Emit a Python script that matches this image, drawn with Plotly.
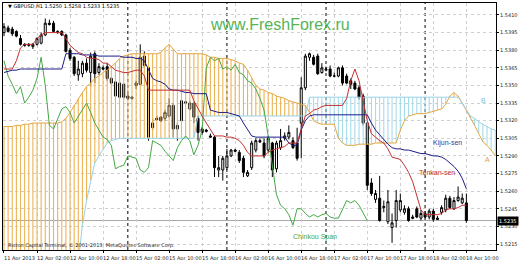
import plotly.graph_objects as go

# ---------------- data (GBPUSD H1, bar index 0 = 11 Apr 2013 18:00) ----------------
open_ = [1.5395, 1.5399, 1.5398, 1.5396, 1.5390, 1.5385, 1.5384, 1.5383, 1.5385, 1.5386,
         1.5393, 1.5403, 1.5403, 1.5396, 1.5396, 1.5393, 1.5380, 1.5374, 1.5359, 1.5360,
         1.5369, 1.5361, 1.5377, 1.5361, 1.5365, 1.5366, 1.5356, 1.5353, 1.5352, 1.5351,
         1.5341, 1.5340, 1.5350, 1.5351, 1.5375, 1.5365, 1.5314, 1.5322, 1.5323, 1.5322,
         1.5324, 1.5333, 1.5313, 1.5320, 1.5335, 1.5330, 1.5335, 1.5322, 1.5313, 1.5312,
         1.5307, 1.5306, 1.5278, 1.5278, 1.5280, 1.5290, 1.5295, 1.5293, 1.5288, 1.5273,
         1.5280, 1.5295, 1.5303, 1.5301, 1.5295, 1.5301, 1.5279, 1.5297, 1.5305, 1.5306,
         1.5303, 1.5301, 1.5318, 1.5348, 1.5374, 1.5374, 1.5375, 1.5361, 1.5363, 1.5364,
         1.5358, 1.5358, 1.5365, 1.5358, 1.5354, 1.5352, 1.5348, 1.5341, 1.5318, 1.5267,
         1.5253, 1.5254, 1.5246, 1.5234, 1.5229, 1.5235, 1.5244, 1.5242, 1.5245, 1.5238,
         1.5245, 1.5237, 1.5241, 1.5238, 1.5243, 1.5237, 1.5242, 1.5244, 1.5254, 1.5245,
         1.5252, 1.5250, 1.5250]
high = [1.5403, 1.5401, 1.5400, 1.5397, 1.5393, 1.5386, 1.5386, 1.5386, 1.5391, 1.5395,
        1.5407, 1.5406, 1.5405, 1.5397, 1.5397, 1.5394, 1.5382, 1.5375, 1.5371, 1.5371,
        1.5373, 1.5378, 1.5379, 1.5369, 1.5367, 1.5369, 1.5357, 1.5355, 1.5354, 1.5352,
        1.5343, 1.5341, 1.5354, 1.5385, 1.5379, 1.5367, 1.5322, 1.5324, 1.5324, 1.5329,
        1.5339, 1.5335, 1.5318, 1.5339, 1.5337, 1.5337, 1.5336, 1.5324, 1.5315, 1.5313,
        1.5309, 1.5307, 1.5290, 1.5290, 1.5296, 1.5296, 1.5296, 1.5295, 1.5290, 1.5278,
        1.5303, 1.5305, 1.5305, 1.5305, 1.5307, 1.5302, 1.5303, 1.5313, 1.5310, 1.5316,
        1.5306, 1.5314, 1.5357, 1.5377, 1.5378, 1.5376, 1.5377, 1.5369, 1.5366, 1.5367,
        1.5361, 1.5366, 1.5367, 1.5360, 1.5356, 1.5354, 1.5350, 1.5343, 1.5319, 1.5271,
        1.5261, 1.5273, 1.5252, 1.5261, 1.5241, 1.5261, 1.5258, 1.5248, 1.5247, 1.5240,
        1.5247, 1.5244, 1.5243, 1.5245, 1.5245, 1.5239, 1.5248, 1.5257, 1.5256, 1.5255,
        1.5264, 1.5258, 1.5258]
low = [1.5392, 1.5395, 1.5392, 1.5391, 1.5384, 1.5383, 1.5383, 1.5381, 1.5384, 1.5385,
       1.5392, 1.5401, 1.5395, 1.5394, 1.5392, 1.5378, 1.5371, 1.5358, 1.5354, 1.5357,
       1.5361, 1.5349, 1.5352, 1.5359, 1.5363, 1.5354, 1.5351, 1.5340, 1.5339, 1.5339,
       1.5338, 1.5338, 1.5347, 1.5350, 1.5365, 1.5303, 1.5312, 1.5320, 1.5319, 1.5320,
       1.5323, 1.5306, 1.5303, 1.5315, 1.5334, 1.5329, 1.5318, 1.5303, 1.5308, 1.5310,
       1.5306, 1.5272, 1.5272, 1.5269, 1.5278, 1.5289, 1.5293, 1.5284, 1.5272, 1.5272,
       1.5278, 1.5293, 1.5301, 1.5288, 1.5293, 1.5272, 1.5276, 1.5295, 1.5303, 1.5304,
       1.5296, 1.5286, 1.5288, 1.5346, 1.5371, 1.5367, 1.5359, 1.5360, 1.5362, 1.5357,
       1.5357, 1.5357, 1.5350, 1.5351, 1.5347, 1.5346, 1.5338, 1.5316, 1.5261, 1.5256,
       1.5250, 1.5234, 1.5242, 1.5232, 1.5216, 1.5229, 1.5242, 1.5240, 1.5234, 1.5236,
       1.5237, 1.5235, 1.5237, 1.5236, 1.5234, 1.5236, 1.5240, 1.5242, 1.5245, 1.5244,
       1.5251, 1.5249, 1.5233]
close_ = [1.5400, 1.5396, 1.5394, 1.5392, 1.5385, 1.5384, 1.5385, 1.5385, 1.5390, 1.5393,
          1.5403, 1.5402, 1.5396, 1.5395, 1.5393, 1.5379, 1.5373, 1.5360, 1.5364, 1.5369,
          1.5363, 1.5375, 1.5360, 1.5366, 1.5364, 1.5356, 1.5352, 1.5341, 1.5340, 1.5340,
          1.5339, 1.5339, 1.5352, 1.5374, 1.5367, 1.5306, 1.5318, 1.5321, 1.5320, 1.5327,
          1.5333, 1.5313, 1.5316, 1.5337, 1.5336, 1.5335, 1.5323, 1.5310, 1.5310, 1.5311,
          1.5306, 1.5280, 1.5280, 1.5288, 1.5290, 1.5295, 1.5294, 1.5286, 1.5276, 1.5276,
          1.5301, 1.5303, 1.5302, 1.5290, 1.5305, 1.5278, 1.5301, 1.5303, 1.5307, 1.5310,
          1.5297, 1.5288, 1.5348, 1.5375, 1.5377, 1.5368, 1.5360, 1.5365, 1.5364, 1.5358,
          1.5358, 1.5365, 1.5352, 1.5352, 1.5351, 1.5347, 1.5340, 1.5318, 1.5265, 1.5258,
          1.5258, 1.5235, 1.5247, 1.5251, 1.5233, 1.5252, 1.5252, 1.5245, 1.5235, 1.5237,
          1.5238, 1.5241, 1.5238, 1.5243, 1.5236, 1.5236, 1.5246, 1.5254, 1.5246, 1.5252,
          1.5255, 1.5254, 1.5235]

tenkan = [1.5364, 1.5364, 1.5364, 1.5371, 1.5382, 1.5385, 1.5385, 1.5385, 1.5390, 1.5393,
          1.5395, 1.5395, 1.5395, 1.5395, 1.5395, 1.5390, 1.5384, 1.5381, 1.5378, 1.5377,
          1.5374, 1.5373, 1.5373, 1.5372, 1.5369, 1.5369, 1.5366, 1.5363, 1.5362, 1.5361,
          1.5361, 1.5362, 1.5363, 1.5363, 1.5358, 1.5346, 1.5346, 1.5346, 1.5346, 1.5346,
          1.5346, 1.5346, 1.5346, 1.5346, 1.5346, 1.5346, 1.5337, 1.5330, 1.5324, 1.5318,
          1.5312, 1.5307, 1.5307, 1.5307, 1.5306, 1.5306, 1.5305, 1.5303, 1.5299, 1.5293,
          1.5290, 1.5290, 1.5290, 1.5290, 1.5293, 1.5295, 1.5296, 1.5297, 1.5298, 1.5301,
          1.5301, 1.5301, 1.5313, 1.5324, 1.5326, 1.5329, 1.5330, 1.5332, 1.5333, 1.5333,
          1.5333, 1.5333, 1.5333, 1.5339, 1.5354, 1.5364, 1.5354, 1.5337, 1.5320, 1.5309,
          1.5306, 1.5303, 1.5301, 1.5296, 1.5289, 1.5288, 1.5287, 1.5282, 1.5276, 1.5268,
          1.5257, 1.5244, 1.5240, 1.5240, 1.5240, 1.5240, 1.5241, 1.5244, 1.5245, 1.5245,
          1.5246, 1.5248, 1.5248]
kijun = [1.5361, 1.5362, 1.5363, 1.5363, 1.5364, 1.5364, 1.5364, 1.5364, 1.5364, 1.5364,
         1.5364, 1.5364, 1.5364, 1.5364, 1.5364, 1.5377, 1.5377, 1.5377, 1.5377, 1.5376,
         1.5376, 1.5376, 1.5376, 1.5375, 1.5375, 1.5375, 1.5375, 1.5375, 1.5375, 1.5374,
         1.5374, 1.5374, 1.5373, 1.5373, 1.5371, 1.5364, 1.5356, 1.5354, 1.5353, 1.5351,
         1.5347, 1.5346, 1.5346, 1.5345, 1.5344, 1.5344, 1.5343, 1.5343, 1.5343, 1.5343,
         1.5329, 1.5328, 1.5327, 1.5327, 1.5327, 1.5326, 1.5325, 1.5324, 1.5318, 1.5313,
         1.5307, 1.5306, 1.5306, 1.5306, 1.5306, 1.5306, 1.5306, 1.5306, 1.5306, 1.5301,
         1.5299, 1.5299, 1.5312, 1.5320, 1.5324, 1.5325, 1.5325, 1.5325, 1.5325, 1.5325,
         1.5325, 1.5325, 1.5325, 1.5325, 1.5325, 1.5325, 1.5325, 1.5325, 1.5325, 1.5318,
         1.5312, 1.5308, 1.5304, 1.5300, 1.5297, 1.5296, 1.5296, 1.5295, 1.5295, 1.5294,
         1.5293, 1.5292, 1.5292, 1.5291, 1.5290, 1.5290, 1.5289, 1.5287, 1.5284, 1.5281,
         1.5277, 1.5271, 1.5262]
senkou_a = [1.5315, 1.5315, 1.5315, 1.5316, 1.5316, 1.5317, 1.5317, 1.5318, 1.5318, 1.5318,
            1.5318, 1.5318, 1.5318, 1.5318, 1.5319, 1.5322, 1.5327, 1.5333, 1.5339, 1.5344,
            1.5349, 1.5352, 1.5356, 1.5358, 1.5361, 1.5363, 1.5366, 1.5369, 1.5373, 1.5375,
            1.5376, 1.5377, 1.5377, 1.5377, 1.5377, 1.5377, 1.5377, 1.5377, 1.5378, 1.5382,
            1.5385, 1.5381, 1.5377, 1.5377, 1.5377, 1.5377, 1.5377, 1.5377, 1.5377, 1.5376,
            1.5374, 1.5374, 1.5373, 1.5373, 1.5373, 1.5372, 1.5371, 1.5369, 1.5368, 1.5363,
            1.5356, 1.5350, 1.5347, 1.5346, 1.5344, 1.5343, 1.5341, 1.5340, 1.5339, 1.5337,
            1.5336, 1.5335, 1.5334, 1.5333, 1.5327, 1.5320, 1.5318, 1.5317, 1.5317, 1.5317,
            1.5317, 1.5305, 1.5301, 1.5299, 1.5299, 1.5299, 1.5300, 1.5300, 1.5300, 1.5300,
            1.5301, 1.5301, 1.5301, 1.5301, 1.5301, 1.5301, 1.5312, 1.5320, 1.5324, 1.5325,
            1.5326, 1.5326, 1.5326, 1.5327, 1.5328, 1.5329, 1.5330, 1.5334, 1.5341, 1.5344,
            1.5341, 1.5335, 1.5329, 1.5322, 1.5316, 1.5309, 1.5302, 1.5299, 1.5295, 1.5290]
senkou_b = [1.5189, 1.5189, 1.5189, 1.5189, 1.5189, 1.5189, 1.5189, 1.5189, 1.5189, 1.5189,
            1.5189, 1.5189, 1.5189, 1.5189, 1.5189, 1.5189, 1.5189, 1.5189, 1.5200, 1.5231,
            1.5252, 1.5269, 1.5284, 1.5290, 1.5296, 1.5301, 1.5303, 1.5304, 1.5305, 1.5305,
            1.5305, 1.5305, 1.5305, 1.5305, 1.5305, 1.5305, 1.5305, 1.5305, 1.5305, 1.5305,
            1.5305, 1.5305, 1.5305, 1.5305, 1.5305, 1.5305, 1.5305, 1.5324, 1.5324, 1.5324,
            1.5324, 1.5324, 1.5324, 1.5324, 1.5324, 1.5324, 1.5324, 1.5324, 1.5324, 1.5324,
            1.5324, 1.5324, 1.5324, 1.5324, 1.5324, 1.5324, 1.5324, 1.5324, 1.5324, 1.5324,
            1.5324, 1.5324, 1.5324, 1.5324, 1.5340, 1.5340, 1.5340, 1.5340, 1.5340, 1.5340,
            1.5340, 1.5340, 1.5340, 1.5340, 1.5340, 1.5340, 1.5340, 1.5340, 1.5340, 1.5340,
            1.5340, 1.5340, 1.5340, 1.5340, 1.5340, 1.5340, 1.5340, 1.5340, 1.5340, 1.5340,
            1.5340, 1.5340, 1.5340, 1.5340, 1.5340, 1.5340, 1.5340, 1.5340, 1.5340, 1.5340,
            1.5340, 1.5335, 1.5329, 1.5324, 1.5322, 1.5319, 1.5317, 1.5315, 1.5313, 1.5312]
chikou = [1.5371, 1.5358, 1.5351, 1.5343, 1.5349, 1.5335, 1.5340, 1.5346, 1.5356, 1.5374,
          1.5350, 1.5316, 1.5313, 1.5322, 1.5330, 1.5332, 1.5327, 1.5318, 1.5324, 1.5330,
          1.5335, 1.5327, 1.5318, 1.5312, 1.5306, 1.5304, 1.5299, 1.5279, 1.5281, 1.5282,
          1.5290, 1.5289, 1.5288, 1.5278, 1.5276, 1.5280, 1.5303, 1.5301, 1.5299, 1.5294,
          1.5290, 1.5286, 1.5297, 1.5303, 1.5307, 1.5303, 1.5291, 1.5299, 1.5312, 1.5365,
          1.5374, 1.5371, 1.5373, 1.5364, 1.5366, 1.5363, 1.5368, 1.5361, 1.5359, 1.5354,
          1.5352, 1.5347, 1.5339, 1.5329, 1.5307, 1.5282, 1.5257, 1.5248, 1.5245, 1.5240,
          1.5231, 1.5245, 1.5245, 1.5241, 1.5238, 1.5240, 1.5238, 1.5240, 1.5241, 1.5238,
          1.5237, 1.5237, 1.5244, 1.5252, 1.5250, 1.5252, 1.5248, 1.5242, 1.5235]

time_label_bars = [0, 8, 16, 24, 32, 40, 48, 56, 64, 72, 80, 88, 96, 104, 112]
time_labels = ["11 Apr 2013", "12 Apr 02:00", "12 Apr 10:00", "12 Apr 18:00", "15 Apr 02:00",
               "15 Apr 10:00", "15 Apr 18:00", "16 Apr 02:00", "16 Apr 10:00", "16 Apr 18:00",
               "17 Apr 02:00", "17 Apr 10:00", "17 Apr 18:00", "18 Apr 02:00", "18 Apr 10:00"]
day_start_bars = [30, 54, 78, 102]
price_ticks = [1.5215, 1.5230, 1.5245, 1.5260, 1.5275, 1.5290, 1.5305, 1.5320,
               1.5335, 1.5350, 1.5365, 1.5380, 1.5395, 1.5410]

# ---------------- figure ----------------
bars = list(range(len(close_)))
cloud_bars = list(range(len(senkou_a)))
chikou_bars = list(range(len(chikou)))

fig = go.Figure()

# cloud hatching (one vertical stroke per bar between span A and span B)
ox, oy, bx, by = [], [], [], []
for i, a, b in zip(cloud_bars, senkou_a, senkou_b):
    if a >= b:
        ox += [i, i, None]; oy += [a, b, None]
    else:
        bx += [i, i, None]; by += [a, b, None]
fig.add_trace(go.Scatter(x=ox, y=oy, mode="lines", line=dict(color="#ebb458", width=1.1),
                         hoverinfo="skip"))
fig.add_trace(go.Scatter(x=bx, y=by, mode="lines", line=dict(color="#a6dbea", width=1.1),
                         hoverinfo="skip"))
fig.add_trace(go.Scatter(x=cloud_bars, y=senkou_a, mode="lines",
                         line=dict(color="#e4a640", width=1), hoverinfo="skip"))
fig.add_trace(go.Scatter(x=cloud_bars, y=senkou_b, mode="lines",
                         line=dict(color="#98d2e6", width=1), hoverinfo="skip"))

fig.add_trace(go.Candlestick(
    x=bars, open=open_, high=high, low=low, close=close_,
    increasing=dict(line=dict(color="black", width=1), fillcolor="white"),
    decreasing=dict(line=dict(color="black", width=1), fillcolor="black"),
    whiskerwidth=0, hoverinfo="skip"))

fig.add_trace(go.Scatter(x=chikou_bars, y=chikou, mode="lines",
                         line=dict(color="#45a845", width=1), hoverinfo="skip"))
fig.add_trace(go.Scatter(x=bars, y=kijun, mode="lines",
                         line=dict(color="#1c1c8a", width=1), hoverinfo="skip"))
fig.add_trace(go.Scatter(x=bars, y=tenkan, mode="lines",
                         line=dict(color="#c43030", width=1), hoverinfo="skip"))

# bid line and day separators
fig.add_hline(y=close_[-1], line=dict(color="#a8a8a8", width=1), layer="below")
for d in day_start_bars:
    fig.add_vline(x=d, line=dict(color="black", width=1, dash="dot"), layer="below")

font_main = "DejaVu Sans"
ann = []
for b, t in zip(time_label_bars, time_labels):
    ann.append(dict(x=b, y=-0.012, xref="x", yref="paper", text=t, showarrow=False,
                    xanchor="left", yanchor="top", xshift=-2,
                    font=dict(size=5, color="#222", family=font_main)))
ann += [
    dict(x=0.006, y=0.988, xref="paper", yref="paper", xanchor="left", yanchor="middle",
         text="▼ GBPUSD,H1 1.5250 1.5258 1.5233 1.5235", showarrow=False,
         font=dict(size=5, color="black", family=font_main)),
    dict(x=0.561, y=0.913, xref="paper", yref="paper", xanchor="center", yanchor="middle",
         text="www.FreshForex.ru", showarrow=False,
         font=dict(size=16, color="rgb(85,180,85)", family="Liberation Sans")),
    dict(x=0.006, y=0.018, xref="paper", yref="paper", xanchor="left", yanchor="middle",
         text="Riston Capital Terminal, © 2001-2013, MetaQuotes Software Corp.", showarrow=False,
         font=dict(size=5, color="#222", family=font_main)),
    dict(x=107.4, y=1.5301, xref="x", yref="y", text="Kijun-sen", showarrow=False,
         font=dict(size=7, color="#3a3a9a", family="Liberation Sans")),
    dict(x=105.0, y=1.5276, xref="x", yref="y", text="Tenkan-sen", showarrow=False,
         font=dict(size=7, color="#c03030", family="Liberation Sans")),
    dict(x=75.3, y=1.5221, xref="x", yref="y", text="Chinkou Span", showarrow=False,
         font=dict(size=7, color="#45a845", family="Liberation Sans")),
    dict(x=116.1, y=1.5337, xref="x", yref="y", text="B", showarrow=False,
         font=dict(size=7, color="#7fc4de", family="Liberation Sans")),
    dict(x=117.0, y=1.5287, xref="x", yref="y", text="A", showarrow=False,
         font=dict(size=7, color="#e0a040", family="Liberation Sans")),
    dict(x=1.0, y=close_[-1], xref="paper", yref="y", xanchor="left", yanchor="middle",
         text="1.5235", showarrow=False, bgcolor="black", borderpad=1, xshift=1,
         font=dict(size=5, color="white", family=font_main)),
]

fig.update_layout(
    width=520, height=260, margin=dict(l=2, r=20, t=2, b=10),
    paper_bgcolor="white", plot_bgcolor="white", showlegend=False,
    annotations=ann, hovermode=False,
)
fig.update_xaxes(range=[-0.24, 119.18], tickvals=time_label_bars, showticklabels=False,
                 ticks="outside", ticklen=2, tickcolor="black",
                 showgrid=True, gridcolor="#cfcfcf", griddash="dot", gridwidth=1,
                 showline=True, linecolor="black", linewidth=1, mirror=True,
                 zeroline=False, rangeslider_visible=False)
fig.update_yaxes(side="right", range=[1.52099, 1.54202], tickvals=price_ticks,
                 tickformat=".4f", ticks="outside", ticklen=2, tickcolor="black",
                 tickfont=dict(size=5, color="#222", family=font_main),
                 showgrid=True, gridcolor="#cfcfcf", griddash="dot", gridwidth=1,
                 showline=True, linecolor="black", linewidth=1, mirror=True,
                 zeroline=False)

fig.write_html("out.html", config={"displayModeBar": False, "staticPlot": True})
